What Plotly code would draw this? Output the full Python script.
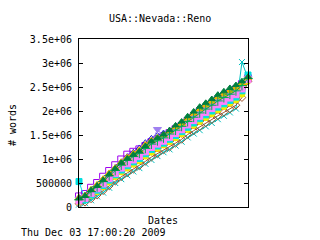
import plotly.graph_objects as go

# sample index along the date axis (no tick labels on the original)
dates = list(range(29))

purple_sq = [220000, 270000, 400000, 500000, 630000, 750000, 870000, 990000, 1090000, 1150000,
             1200000, 1270000, 1350000, 1410000, 1470000, 1540000, 1620000, 1690000, 1790000, 1880000,
             1980000, 2060000, 2140000, 2230000, 2300000, 2370000, 2450000, 2560000, 2680000]
blue_tri = [200000, 250000, 360000, 460000, 580000, 700000, 820000, 940000, 1050000, 1140000,
            1230000, 1340000, 1430000, 1490000, 1540000, 1600000, 1660000, 1730000, 1820000, 1910000,
            2000000, 2080000, 2160000, 2240000, 2310000, 2380000, 2460000, 2570000, 2690000]
dkgreen_tri = [180000, 230000, 350000, 440000, 560000, 680000, 800000, 920000, 1010000, 1090000,
               1160000, 1270000, 1370000, 1440000, 1510000, 1600000, 1700000, 1780000, 1890000, 1990000,
               2090000, 2170000, 2250000, 2340000, 2410000, 2480000, 2540000, 2620000, 2710000]
orange_tri = [190000, 240000, 360000, 460000, 580000, 700000, 810000, 930000, 1030000, 1110000,
              1180000, 1290000, 1380000, 1440000, 1500000, 1580000, 1670000, 1740000, 1850000, 1950000,
              2040000, 2120000, 2200000, 2290000, 2350000, 2420000, 2490000, 2580000, 2700000]
green_plus = [150000, 210000, 320000, 420000, 530000, 650000, 760000, 870000, 970000, 1050000,
              1120000, 1220000, 1310000, 1380000, 1440000, 1520000, 1600000, 1680000, 1780000, 1870000,
              1960000, 2040000, 2120000, 2210000, 2280000, 2350000, 2420000, 2530000, 2680000]
lavender_tri = [170000, 220000, 330000, 430000, 550000, 660000, 780000, 900000, 990000, 1070000,
                1140000, 1240000, 1330000, 1620000, 1460000, 1540000, 1620000, 1700000, 1800000, 1890000,
                1980000, 2060000, 2140000, 2230000, 2300000, 2370000, 2440000, 2550000, 2690000]
violet_sq = [130000, 180000, 280000, 380000, 480000, 590000, 700000, 810000, 900000, 980000,
             1050000, 1150000, 1240000, 1310000, 1370000, 1450000, 1530000, 1610000, 1710000, 1800000,
             1890000, 1970000, 2050000, 2130000, 2200000, 2270000, 2340000, 2460000, 2660000]
cyan_sq = [530000, 150000, 250000, 350000, 450000, 560000, 670000, 770000, 860000, 940000,
           1010000, 1110000, 1200000, 1270000, 1330000, 1410000, 1490000, 1570000, 1660000, 1750000,
           1840000, 1920000, 2000000, 2080000, 2150000, 2220000, 2290000, 2420000, 2750000]
yellow_pt = [110000, 150000, 240000, 320000, 420000, 520000, 630000, 730000, 810000, 890000,
             960000, 1060000, 1140000, 1220000, 1290000, 1360000, 1440000, 1520000, 1610000, 1700000,
             1780000, 1860000, 1940000, 2020000, 2090000, 2160000, 2230000, 2350000, 2630000]
red_pt = [100000, 140000, 220000, 300000, 400000, 500000, 610000, 710000, 790000, 870000,
          940000, 1040000, 1120000, 1190000, 1270000, 1340000, 1420000, 1490000, 1590000, 1670000,
          1760000, 1840000, 1910000, 1990000, 2060000, 2130000, 2200000, 2330000, 2620000]
brown_dia = [70000, 100000, 170000, 250000, 340000, 440000, 540000, 630000, 710000, 790000,
             860000, 950000, 1040000, 1110000, 1190000, 1250000, 1330000, 1410000, 1510000, 1590000,
             1670000, 1750000, 1820000, 1900000, 1970000, 2040000, 2120000, 2280000, 2620000]
cyan_x = [50000, 80000, 140000, 220000, 300000, 400000, 500000, 580000, 660000, 740000,
          810000, 900000, 980000, 1060000, 1140000, 1200000, 1280000, 1360000, 1450000, 1530000,
          1600000, 1680000, 1750000, 1830000, 1900000, 1970000, 2050000, 3020000, 2680000]

y_ticks = [0, 500000, 1000000, 1500000, 2000000, 2500000, 3000000, 3500000]
y_tick_text = ["0", "500000", "1e+06", "1.5e+06", "2e+06", "2.5e+06", "3e+06", "3.5e+06"]

series = [
    (purple_sq, "#a000f0", "square-open", 7),
    (blue_tri, "#2020d0", "triangle-up-open", 6),
    (cyan_x, "#00c0c0", "x-thin-open", 6),
    (brown_dia, "#a0522d", "diamond-open", 6),
    (red_pt, "#ff0000", "circle", 3),
    (yellow_pt, "#f0f000", "circle", 6),
    (cyan_sq, "#00e0e0", "square", 6),
    (lavender_tri, "#9f80f0", "triangle-down", 7),
    (violet_sq, "#ff80ff", "square", 6),
    (orange_tri, "#f0b000", "triangle-up", 7),
    (green_plus, "#00b050", "cross-thin-open", 7),
    (dkgreen_tri, "#008040", "triangle-up", 6),
]

fig = go.Figure()
for vals, col, sym, sz in series:
    fig.add_trace(go.Scatter(
        x=dates, y=vals, mode="lines+markers", cliponaxis=False,
        line=dict(color=col, width=1),
        marker=dict(color=col, symbol=sym, size=sz, line=dict(color=col, width=1)),
        showlegend=False,
    ))

font = dict(family="DejaVu Sans Mono", size=10, color="black")
L, R, T, B = 79, 248, 39, 207
W, H = R - L, B - T

def px(x):
    return (x - L) / W

def py(y):
    return (B - y) / H

fig.update_layout(
    width=320, height=240,
    margin=dict(l=L, r=320 - R, t=T, b=240 - B),
    paper_bgcolor="white", plot_bgcolor="white",
    font=font,
    xaxis=dict(range=[0, 28], showgrid=False, zeroline=False, showticklabels=False,
               ticks="", showline=True, mirror=True, linecolor="black", linewidth=1),
    yaxis=dict(range=[0, 3500000], showgrid=False, zeroline=False,
               tickvals=y_ticks, ticktext=y_tick_text, ticks="inside", ticklen=4,
               tickcolor="black", showline=True, mirror="ticks", linecolor="black",
               linewidth=1, ticklabelstandoff=4, tickfont=font),
    annotations=[
        dict(text="USA::Nevada::Reno", x=px(160), y=py(19), xref="paper", yref="paper",
             showarrow=False, xanchor="center", yanchor="middle", font=font),
        dict(text="Dates", x=px(163), y=py(220), xref="paper", yref="paper",
             showarrow=False, xanchor="center", yanchor="middle", font=font),
        dict(text="# words", x=px(12), y=py(125), xref="paper", yref="paper", textangle=-90,
             showarrow=False, xanchor="center", yanchor="middle", font=font),
        dict(text="Thu Dec 03 17:00:20 2009", x=px(19), y=py(233), xref="paper", yref="paper",
             showarrow=False, xanchor="left", yanchor="middle", font=font),
    ],
)

fig.write_html("out.html")
